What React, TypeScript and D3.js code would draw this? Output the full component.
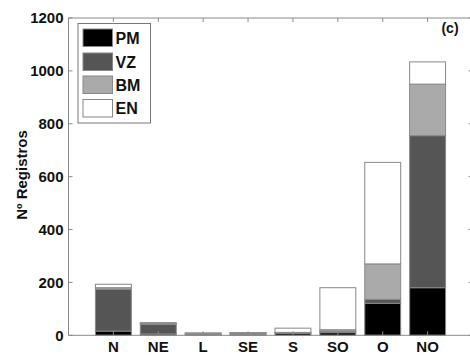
import React from "react";
import * as d3 from "d3";

const categories = ["N", "NE", "L", "SE", "S", "SO", "O", "NO"];
const seriesNames = ["PM", "VZ", "BM", "EN"];
const PM = [16, 5, 3, 3, 8, 10, 121, 180];
const VZ = [158, 37, 5, 5, 2, 5, 15, 575];
const BM = [6, 3, 0, 1, 1, 6, 134, 195];
const EN = [13, 3, 1, 1, 16, 159, 384, 84];
const yTicks = [0, 200, 400, 600, 800, 1000, 1200];
const colors = ["#000000", "#555555", "#aaaaaa", "#ffffff"];

const W = 470, H = 356;
const L = 68.5, R = 472.5, T = 18, B = 335.3;

export default function App() {
  const x = d3.scaleLinear().domain([0, 9]).range([L, R]);
  const y = d3.scaleLinear().domain([0, 1200]).range([B, T]);
  const table = categories.map((c, i) => ({ cat: c, PM: PM[i], VZ: VZ[i], BM: BM[i], EN: EN[i] }));
  const stacked = d3.stack<any>().keys(seriesNames)(table);
  const bw = 0.8;
  const font = "'Liberation Sans', Arial, sans-serif";
  const axisColor = "#8a8a8a";
  const txt = "#111";
  return (
    <svg width={W} height={H} style={{ position: "absolute", left: 0, top: 0, background: "#fff" }}>
      {stacked.map((layer, si) => (
        <g key={si}>
          {layer.map((d, i) => (
            <rect key={i}
              x={x(i + 1 - bw / 2)} width={x(bw) - x(0)}
              y={y(d[1])} height={Math.max(0, y(d[0]) - y(d[1]))}
              fill={colors[si]} stroke="#888" strokeWidth={1} />
          ))}
        </g>
      ))}
      <line x1={L} x2={L} y1={T} y2={B} stroke={axisColor} />
      <line x1={R} x2={R} y1={T} y2={B} stroke={axisColor} />
      <line x1={L} x2={R} y1={T} y2={T} stroke={axisColor} />
      <line x1={L} x2={R} y1={B} y2={B} stroke={axisColor} />
      {yTicks.map(t => (
        <g key={t}>
          <line x1={L} x2={L + 4} y1={y(t)} y2={y(t)} stroke={axisColor} />
          <line x1={R - 4} x2={R} y1={y(t)} y2={y(t)} stroke={axisColor} />
          <text x={L - 5} y={y(t)} dy="0.36em" textAnchor="end" fontFamily={font} fontWeight="bold" fontSize={15} fill={txt}>{t}</text>
        </g>
      ))}
      {categories.map((c, i) => (
        <g key={c}>
          <line x1={x(i + 1)} x2={x(i + 1)} y1={T} y2={T + 4} stroke={axisColor} />
          <line x1={x(i + 1)} x2={x(i + 1)} y1={B} y2={B - 4} stroke={axisColor} />
          <text x={x(i + 1)} y={352} textAnchor="middle" fontFamily={font} fontWeight="bold" fontSize={15} fill={txt}>{c}</text>
        </g>
      ))}
      <text transform={`translate(27,175) rotate(-90)`} textAnchor="middle" fontFamily={font} fontWeight="bold" fontSize={15} fill={txt}>Nº Registros</text>
      <text x={450} y={33} textAnchor="middle" fontFamily={font} fontWeight="bold" fontSize={14} fill={txt}>(c)</text>
      <rect x={78} y={23.5} width={72.5} height={99.5} fill="#fff" stroke="#777" />
      {seriesNames.map((s, i) => {
        const py = [29, 53, 76, 99.5][i];
        return (
          <g key={s}>
            <rect x={83} y={py} width={29.5} height={17.5} fill={colors[i]} stroke="#888" />
            <text x={115.5} y={py + 8.75} dy="0.37em" fontFamily={font} fontWeight="bold" fontSize={16} fill={txt}>{s}</text>
          </g>
        );
      })}
    </svg>
  );
}
